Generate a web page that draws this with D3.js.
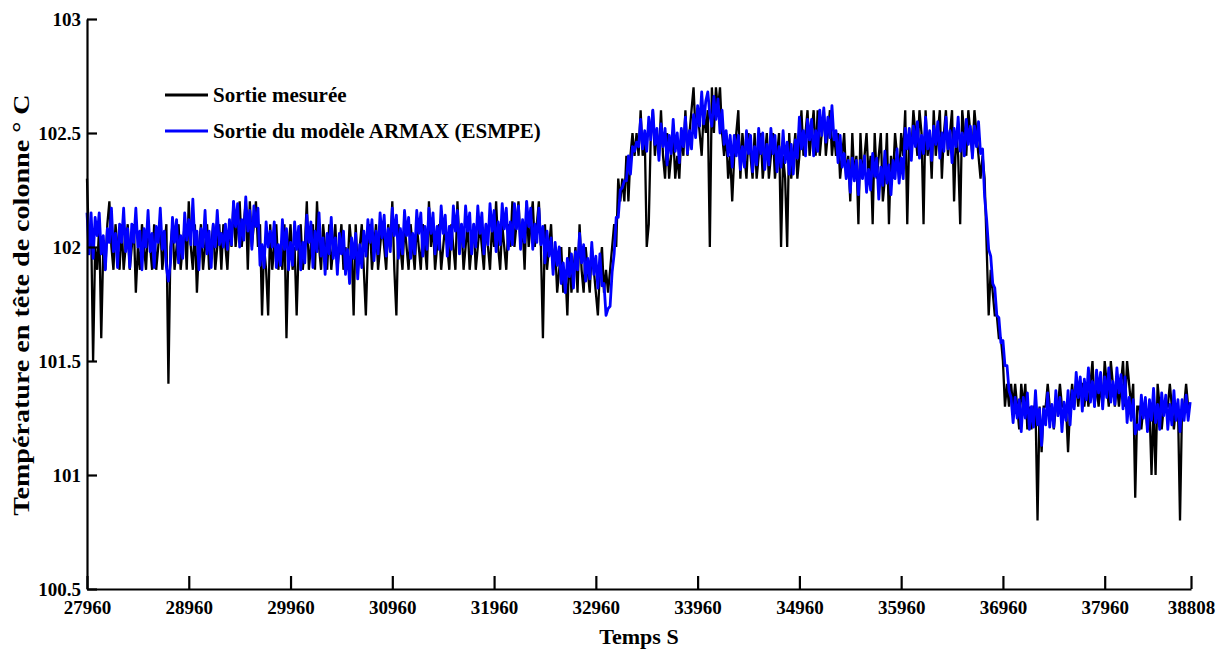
<!DOCTYPE html>
<html>
<head>
<meta charset="utf-8">
<script src="https://cdn.jsdelivr.net/npm/d3@7"></script>
<style>
  body { margin: 0; background: #fff; }
  svg { display: block; }
  text { font-family: "Liberation Serif", "Times New Roman", serif; font-weight: bold; fill: #000; }
</style>
</head>
<body>
<svg id="chart" width="1228" height="653"></svg>
<script>
// Sampling of both series: one value every 20 s from 27960 s
const tStart = 27960;
const tStep = 20;
const tEnd = 38808;

// Measured column-head temperature, in tenths of a degree above 100 °C
const measuredTenths = [
  23,20,21,15,20,19,21,16,20,19,21,22,20,19,21,20,19,21,19,20,
  21,19,20,21,18,20,19,21,20,19,21,20,19,21,19,20,21,19,20,21,
  14,20,21,19,20,21,19,20,21,19,22,20,19,21,18,20,21,19,20,21,
  19,20,21,19,20,21,19,21,20,19,21,20,22,20,21,22,20,21,22,19,
  22,20,21,22,20,21,17,20,19,17,21,19,20,21,19,20,19,21,16,20,
  21,19,20,17,20,21,19,20,22,19,20,21,19,22,20,19,21,20,19,21,
  19,20,21,19,20,21,19,20,19,21,20,17,21,19,20,21,19,17,20,21,
  19,20,21,19,20,21,20,19,21,20,22,19,17,21,20,19,21,20,19,21,
  20,19,21,20,19,21,20,19,22,20,21,19,20,21,19,20,21,20,19,21,
  20,19,22,20,21,19,20,21,19,20,21,19,20,21,20,19,21,20,19,21,
  20,22,20,19,21,20,19,21,20,22,20,21,22,20,21,19,22,20,21,22,
  20,21,22,20,16,21,19,20,21,19,20,18,19,20,18,19,17,20,18,19,
  20,18,21,19,18,20,19,18,20,19,18,17,19,20,18,19,18,19,20,21,
  20,23,22,23,22,24,22,24,25,24,25,24,26,24,25,20,21,25,26,24,
  25,24,26,24,23,25,23,24,25,23,24,23,25,24,26,24,25,26,27,25,
  26,25,24,26,25,26,20,27,25,27,26,27,25,24,25,23,24,22,24,25,
  26,23,25,24,23,25,24,23,25,23,24,25,23,24,25,23,24,25,23,24,
  25,20,24,23,20,25,23,24,25,23,24,26,24,25,26,24,25,26,24,26,
  24,25,26,24,25,26,24,25,24,25,23,24,25,23,24,22,25,23,24,21,
  25,23,24,25,23,24,21,25,23,24,25,22,23,25,21,24,23,25,24,23,
  25,24,26,21,25,24,26,25,24,26,25,21,26,24,25,23,26,24,25,26,
  23,25,26,24,25,26,22,25,24,21,26,25,24,26,25,24,26,25,24,23,
  24,23,20,17,19,18,17,17,16,16,15,13,14,13,14,13,14,13,12,14,
  13,14,12,13,12,13,13,8,13,11,13,13,14,13,13,12,13,13,14,13,
  13,13,11,13,14,13,14,13,14,14,13,14,13,14,15,13,14,13,14,13,
  15,14,13,15,14,13,14,13,14,15,13,15,14,13,14,9,13,13,12,13,
  13,12,13,10,13,10,14,13,12,13,13,13,14,13,12,13,13,8,13,13,
  14,13,13
];

// ARMAX (ESMPE) model output, in hundredths of a degree above 100 °C
const modelHundredths = [
  215,197,215,195,213,205,215,197,205,190,208,202,217,198,206,191,210,202,217,198,
  208,191,210,202,217,200,207,190,208,200,216,198,206,191,209,202,217,199,207,191,
  185,193,213,202,212,193,205,195,215,203,212,201,221,201,207,190,208,200,216,197,
  207,191,210,200,216,201,206,200,210,199,212,201,220,209,219,200,212,203,222,207,
  216,199,218,209,217,192,201,191,211,200,207,200,211,191,201,192,212,199,208,190,
  202,192,211,199,209,190,202,193,214,202,211,191,207,198,215,196,204,188,206,197,
  213,195,204,188,206,197,207,188,199,184,204,195,206,186,201,191,207,196,212,202,
  212,194,207,197,215,204,214,196,208,198,217,205,214,195,208,197,216,205,213,195,
  206,197,216,206,215,196,209,199,217,206,215,197,209,199,218,206,214,196,209,199,
  218,207,216,197,210,200,218,207,215,197,210,200,218,206,215,197,210,201,219,207,
  216,198,211,201,219,208,217,199,211,201,219,208,218,199,212,202,220,209,217,199,
  210,202,217,201,209,193,207,196,204,188,202,192,200,184,193,180,195,187,197,182,
  198,190,206,193,201,185,195,186,202,188,196,182,197,183,184,170,173,174,189,197,
  213,213,225,226,229,229,240,232,244,242,246,244,256,243,251,242,257,247,260,245,
  252,238,254,244,252,236,249,241,256,242,250,237,252,244,257,241,251,243,258,248,
  262,253,268,254,264,268,258,253,266,256,265,250,260,245,251,240,249,235,249,240,
  249,234,244,235,251,241,249,233,244,236,252,241,250,234,245,236,252,241,249,233,
  244,235,251,237,246,232,245,232,247,239,257,243,251,240,256,247,256,240,251,242,
  260,249,261,246,257,248,262,247,251,237,249,235,241,230,238,224,239,229,238,223,
  238,230,240,224,234,225,241,231,239,221,235,227,242,228,236,223,238,230,243,228,
  239,230,252,243,252,238,253,244,255,239,249,241,257,243,251,238,253,245,255,239,
  250,242,257,243,251,237,252,244,257,242,250,240,256,245,253,239,253,244,255,241,
  243,222,212,199,196,184,182,170,169,158,159,148,148,137,134,123,134,125,133,119,
  134,125,136,120,130,121,137,122,129,113,129,122,136,121,131,121,137,126,134,119,
  132,124,137,122,137,129,145,134,143,128,142,133,147,132,141,130,146,136,145,129,
  143,134,147,132,141,131,147,136,144,129,143,123,134,124,133,118,122,120,135,125,
  134,119,133,124,138,123,131,120,136,126,135,120,131,122,137,124,133,119,133,124,
  135,124,132
];

const xTicks = [27960, 28960, 29960, 30960, 31960, 32960, 33960, 34960, 35960, 36960, 37960, 38808];
const yTicks = [100.5, 101, 101.5, 102, 102.5, 103];
const seriesNames = ["Sortie mesurée", "Sortie du modèle ARMAX (ESMPE)"];
const seriesColors = ["#000000", "#0000ff"];
const xTitle = "Temps S";
const yTitle = "Température en tête de colonne ° C";

const measured = measuredTenths.map((v, i) => ({ t: tStart + i * tStep, v: 100 + v / 10 }));
const model = modelHundredths.map((v, i) => ({ t: tStart + i * tStep, v: 100 + v / 100 }));

const svg = d3.select("#chart");
const margin = { left: 87, right: 37, top: 19, bottom: 64 };
const W = 1228, H = 653;

const x = d3.scaleLinear().domain([tStart, tEnd]).range([margin.left, W - margin.right]);
const y = d3.scaleLinear().domain([100.5, 103]).range([H - margin.bottom, margin.top]);

const line = d3.line().x(d => x(d.t)).y(d => y(d.v));

svg.append("path")
  .datum(measured)
  .attr("fill", "none")
  .attr("stroke", seriesColors[0])
  .attr("stroke-width", 2.3)
  .attr("stroke-linejoin", "miter")
  .attr("d", line);

svg.append("path")
  .datum(model)
  .attr("fill", "none")
  .attr("stroke", seriesColors[1])
  .attr("stroke-width", 2.8)
  .attr("stroke-linejoin", "round")
  .attr("d", line);

// Axes: only left and bottom, ticks pointing into the plot
const yAxis = svg.append("g")
  .attr("transform", `translate(${margin.left},0)`)
  .call(d3.axisLeft(y).tickValues(yTicks).tickFormat(d3.format("~f"))
    .tickSize(-10).tickSizeOuter(0).tickPadding(6));

const xAxis = svg.append("g")
  .attr("transform", `translate(0,${H - margin.bottom})`)
  .call(d3.axisBottom(x).tickValues(xTicks).tickFormat(d3.format("d"))
    .tickSize(-13).tickSizeOuter(0).tickPadding(12));

[yAxis, xAxis].forEach(g => {
  g.select(".domain").attr("stroke", "#000").attr("stroke-width", 2.2);
  g.selectAll(".tick line").attr("stroke", "#000").attr("stroke-width", 2.2);
  g.selectAll(".tick text")
    .attr("fill", "#000")
    .style("font-family", '"Liberation Serif", "Times New Roman", serif')
    .style("font-weight", "bold")
    .style("font-size", "19px");
});

// Axis titles
svg.append("text")
  .attr("x", 639)
  .attr("y", 644)
  .attr("text-anchor", "middle")
  .style("font-size", "22px")
  .text(xTitle);

svg.append("text")
  .attr("transform", "translate(29,305) rotate(-90) scale(1.17,1)")
  .attr("text-anchor", "middle")
  .style("font-size", "24px")
  .text(yTitle);

// Legend
const legend = svg.append("g");
seriesNames.forEach((name, i) => {
  const ly = 95 + i * 36;
  legend.append("line")
    .attr("x1", 165).attr("x2", 208)
    .attr("y1", ly).attr("y2", ly)
    .attr("stroke", seriesColors[i])
    .attr("stroke-width", 3);
  legend.append("text")
    .attr("x", 213)
    .attr("y", ly)
    .attr("dy", "0.35em")
    .style("font-size", "21px")
    .text(name);
});
</script>
</body>
</html>
